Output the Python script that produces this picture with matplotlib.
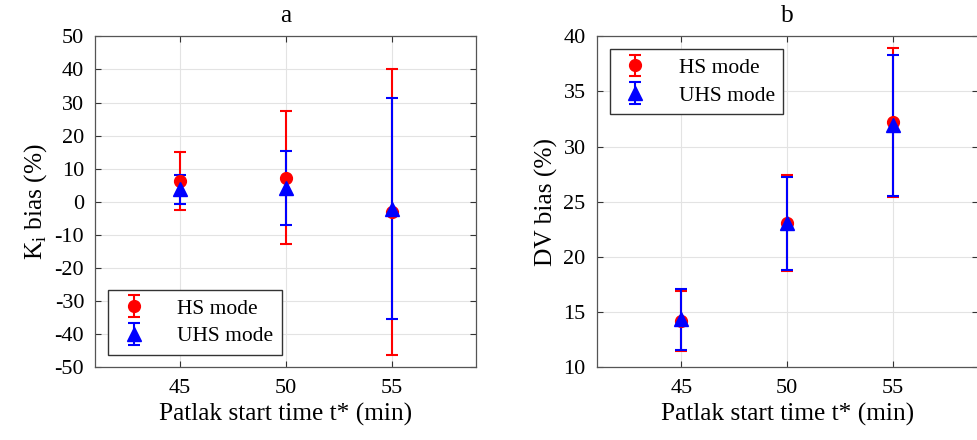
import numpy as np
import matplotlib.pyplot as plt

plt.rcParams['font.family'] = ['Liberation Serif', 'DejaVu Serif']
plt.rcParams['mathtext.fontset'] = 'custom'
plt.rcParams['mathtext.rm'] = 'Liberation Serif'
plt.rcParams['axes.unicode_minus'] = False

# start times
t_start = [45, 50, 55]

# panel a: Ki bias (%)
ki_hs = [6.4, 7.3, -3.0]
ki_hs_err = [8.8, 20.1, 43.2]
ki_uhs = [3.8, 4.3, -2.0]
ki_uhs_err = [4.4, 11.2, 33.4]

# panel b: DV bias (%)
dv_hs = [14.2, 23.1, 32.2]
dv_hs_err = [2.7, 4.35, 6.75]
dv_uhs = [14.35, 23.05, 31.95]
dv_uhs_err = [2.75, 4.2, 6.4]

fig = plt.figure(figsize=(9.78, 4.4), dpi=100)
ax1 = fig.add_axes([0.0974, 0.1648, 0.3896, 0.7527])
ax2 = fig.add_axes([0.6101, 0.1648, 0.3896, 0.7527])

def draw(ax, hs, hs_err, uhs, uhs_err):
    ax.errorbar(t_start, hs, yerr=hs_err, fmt='o', color='red', ms=8.5,
                elinewidth=1.5, capsize=4, capthick=1.5, label='HS mode')
    ax.errorbar(t_start, uhs, yerr=uhs_err, fmt='^', color='blue', ms=10,
                elinewidth=1.5, capsize=4, capthick=1.5, label='UHS mode')
    ax.set_xlim(41, 59)
    ax.set_xticks(t_start)
    ax.grid(True, color='#e3e3e3', linewidth=0.8)
    ax.set_axisbelow(True)
    ax.tick_params(direction='in', top=True, right=True, labelsize=16,
                   color='#333333', length=4, pad=8)
    for s in ax.spines.values():
        s.set_color('#555555')
        s.set_linewidth(0.9)
    ax.set_xlabel('Patlak start time t* (min)', fontsize=18.3)

leg_kw = dict(fontsize=15.5, fancybox=False, edgecolor='#333333', framealpha=1,
              borderpad=0.4, handletextpad=1.2, labelspacing=0.35,
              handlelength=1.6, borderaxespad=0)

draw(ax1, ki_hs, ki_hs_err, ki_uhs, ki_uhs_err)
ax1.set_ylim(-50, 50)
ax1.set_yticks(np.arange(-50, 51, 10))
ax1.set_ylabel(r'K$_\mathrm{i}$ bias (%)', fontsize=18.3)
ax1.set_title('a', fontsize=18.3, pad=10)
ax1.legend(loc='lower left', bbox_to_anchor=(0.034, 0.038), **leg_kw)

draw(ax2, dv_hs, dv_hs_err, dv_uhs, dv_uhs_err)
ax2.set_ylim(10, 40)
ax2.set_yticks(np.arange(10, 41, 5))
ax2.set_ylabel('DV bias (%)', fontsize=18.3)
ax2.set_title('b', fontsize=18.3, pad=10)
ax2.legend(loc='upper left', bbox_to_anchor=(0.034, 0.961), **leg_kw)

fig.savefig('out.png', dpi=100)
